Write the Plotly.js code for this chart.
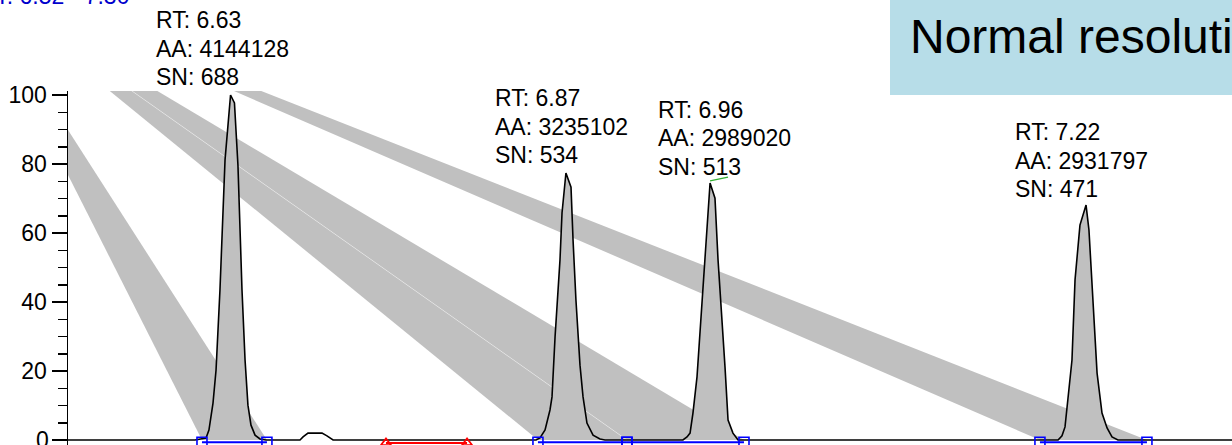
<!DOCTYPE html>
<html><head><meta charset="utf-8">
<script src="https://cdn.plot.ly/plotly-3.0.1.min.js"></script>
<style>html,body{margin:0;padding:0;background:#fff;overflow:hidden}#chart{width:1232px;height:445px}</style>
</head><body><div id="chart"></div>
<script>
// ---- data (retention time in min, relative abundance in %) ----
const traceTime = [6.5200, 6.6076, 6.6152, 6.6172, 6.6200, 6.6221, 6.6248, 6.6283, 6.6321, 6.6348,
  6.6372, 6.6400, 6.6421, 6.6441, 6.6462, 6.6490, 6.6524, 6.6566, 6.6800, 6.6821,
  6.6855, 6.6952, 6.6986, 6.7028, 6.8428, 6.8455, 6.8490, 6.8524, 6.8538, 6.8559,
  6.8593, 6.8607, 6.8634, 6.8669, 6.8683, 6.8703, 6.8731, 6.8752, 6.8779, 6.8821,
  6.8869, 6.8903, 6.9441, 6.9469, 6.9490, 6.9510, 6.9538, 6.9593, 6.9628, 6.9662,
  6.9683, 6.9731, 6.9752, 6.9786, 6.9821, 7.2028, 7.2055, 7.2076, 7.2097, 7.2124,
  7.2145, 7.2179, 7.2221, 7.2241, 7.2297, 7.2331, 7.2366, 7.2400, 7.2441, 7.3300];
const traceIntensity = [0, 0, 0.6, 2.9, 10.7, 20.3, 43.5, 81.2, 100, 97.7,
  79.7, 43.5, 23.2, 10.1, 4.3, 1.4, 0.3, 0, 0, 0.9,
  2.0, 2.0, 1.2, 0, 0, 0.6, 2.9, 8.7, 12.5, 29.9,
  52.2, 65.8, 77.4, 73.3, 58.0, 40.6, 21.7, 12.5, 4.9, 1.4,
  0.3, 0, 0, 0.9, 2.0, 7.8, 18.3, 52.2, 74.5, 70.1,
  52.2, 21.2, 5.8, 2.0, 0, 0, 1.2, 3.8, 11.6, 23.2,
  46.4, 62.3, 68.1, 60.9, 19.4, 7.8, 3.5, 0.9, 0, 0];

const peakRT = ["6.63", "6.87", "6.96", "7.22"];
const peakAA = ["4144128", "3235102", "2989020", "2931797"];
const peakSN = ["688", "534", "513", "471"];
const peakStart = [6.6124, 6.8441, 6.9055, 7.1903];
const peakEnd   = [6.6572, 6.9055, 6.9862, 7.2641];

// connector bands: far ends (time at the level below)
const bandTopStart = [6.4801, 6.5230, 6.5343, 6.5859];
const bandTopEnd   = [6.4892, 6.5343, 6.5463, 6.5999];
const bandTopLevel = 110;

const yTickValues = [0, 20, 40, 60, 80, 100];
const noiseRegion = [6.7393, 6.7952];
const labelMark = {t: [6.9628, 6.9752], v: [75.1, 76.2]};
const rtRangeText = "RT: 6.52 - 7.30";
const panelTitle = "Normal resolution";

// ---- layout geometry (pixels) ----
const W = 1232, H = 445, ML = 68, MT = 91;
const PW = W - ML, PH = H - MT;
const xRange = [6.52, 6.52 + PW / 1450];
const yRange = [(440 - 445) / 3.45, (440 - MT) / 3.45];
const px2paperX = px => (px - ML) / PW;
const px2paperY = py => (H - py) / PH;
const FONT = "Liberation Sans, Arial, sans-serif";
const GRAY = "#c0c0c0";

const traces = [];
// bands
for (let i = 0; i < peakStart.length; i++) {
  traces.push({
    x: [bandTopStart[i], peakStart[i], peakEnd[i], bandTopEnd[i], bandTopStart[i]],
    y: [bandTopLevel, 0, 0, bandTopLevel, bandTopLevel],
    mode: "lines", fill: "toself", fillcolor: GRAY, line: {width: 0, color: GRAY},
    hoverinfo: "skip"
  });
}
// seams between adjacent bands
for (let i = 0; i < peakStart.length - 1; i++) {
  if (Math.abs(peakEnd[i] - peakStart[i + 1]) < 1e-6) {
    traces.push({x: [bandTopEnd[i], peakEnd[i]], y: [bandTopLevel, 0], mode: "lines",
      line: {width: 0.7, color: "rgba(255,255,255,0.55)"}, hoverinfo: "skip"});
  }
}
// peak area fills
for (let i = 0; i < peakStart.length; i++) {
  const xs = [peakStart[i]], ys = [0];
  traceTime.forEach((t, k) => { if (t > peakStart[i] && t < peakEnd[i]) { xs.push(t); ys.push(traceIntensity[k]); } });
  xs.push(peakEnd[i], peakStart[i]); ys.push(0, 0);
  traces.push({x: xs, y: ys, mode: "lines", fill: "toself", fillcolor: GRAY,
    line: {width: 0, color: GRAY}, hoverinfo: "skip"});
}
// chromatogram
traces.push({x: traceTime, y: traceIntensity, mode: "lines",
  line: {color: "#000", width: 1.6}, hoverinfo: "skip"});
// integration baselines
for (let i = 0; i < peakStart.length; i++) {
  traces.push({x: [peakStart[i], peakEnd[i]], y: [-0.65, -0.65], mode: "lines+markers",
    line: {color: "#0000ff", width: 2},
    marker: {symbol: "square-open", size: 10, color: "#0000ff", line: {width: 1.6, color: "#0000ff"}},
    cliponaxis: false, hoverinfo: "skip"});
}
// noise region
traces.push({x: noiseRegion, y: [-0.85, -0.85], mode: "lines+markers",
  line: {color: "#ff0000", width: 2},
  marker: {symbol: "triangle-up-open", size: 9, color: "#ff0000", line: {width: 1.8, color: "#ff0000"}},
  cliponaxis: false, hoverinfo: "skip"});
// label mark
traces.push({x: labelMark.t, y: labelMark.v, mode: "lines",
  line: {color: "#33b033", width: 1.3}, hoverinfo: "skip"});

// ---- annotations ----
const labelLeftPx = [155, 494, 657, 1014];
const labelMidPx = [48.5, 126.5, 138, 160.5];
const lineGap = 28.5;
const annotations = [];
for (let i = 0; i < peakRT.length; i++) {
  const lines = ["RT: " + peakRT[i], "AA: " + peakAA[i], "SN: " + peakSN[i]];
  lines.forEach((txt, j) => {
    annotations.push({xref: "paper", yref: "paper", x: px2paperX(labelLeftPx[i]),
      y: px2paperY(labelMidPx[i] + (j - 1) * lineGap), xanchor: "left", yanchor: "middle",
      text: txt, showarrow: false, borderpad: 0, font: {family: FONT, size: 23, color: "#000"}});
  });
}
// bottom tick label (drawn as text so it shows although it sits at the picture edge)
annotations.push({xref: "paper", yref: "y", x: px2paperX(50), y: yTickValues[0],
  xanchor: "right", yanchor: "middle", text: String(yTickValues[0]), showarrow: false, borderpad: 0,
  font: {family: FONT, size: 23, color: "#000"}});
annotations.push({xref: "paper", yref: "paper", x: px2paperX(-22), y: px2paperY(-4),
  xanchor: "left", yanchor: "middle", text: rtRangeText, showarrow: false, borderpad: 0,
  font: {family: FONT, size: 23, color: "#0000cc"}});
annotations.push({xref: "paper", yref: "paper", x: px2paperX(909), y: px2paperY(36),
  xanchor: "left", yanchor: "middle", text: panelTitle, showarrow: false, borderpad: 0,
  font: {family: FONT, size: 48, color: "#000"}});

const layout = {
  width: W, height: H,
  margin: {l: ML, r: 0, t: MT, b: 0, pad: 0},
  paper_bgcolor: "#fff", plot_bgcolor: "#fff",
  showlegend: false,
  xaxis: {range: xRange, visible: false, fixedrange: true},
  yaxis: {range: yRange, tickvals: yTickValues, ticks: "outside", ticklen: 15,
    tickwidth: 1.5, tickcolor: "#000", showline: true, linecolor: "#000", linewidth: 1.5,
    showgrid: false, zeroline: false, tickfont: {family: FONT, size: 23, color: "#000"},
    minor: {dtick: 5, tick0: 0, ticks: "outside", ticklen: 9, tickwidth: 1.5, tickcolor: "#000", showgrid: false},
    fixedrange: true},
  shapes: [{type: "rect", xref: "paper", yref: "paper", x0: px2paperX(890), x1: px2paperX(1240),
    y0: px2paperY(95), y1: px2paperY(-5), fillcolor: "rgb(183,221,232)", line: {width: 0}, layer: "below"}],
  annotations: annotations
};

Plotly.newPlot("chart", traces, layout, {displayModeBar: false, staticPlot: true});
</script></body></html>
